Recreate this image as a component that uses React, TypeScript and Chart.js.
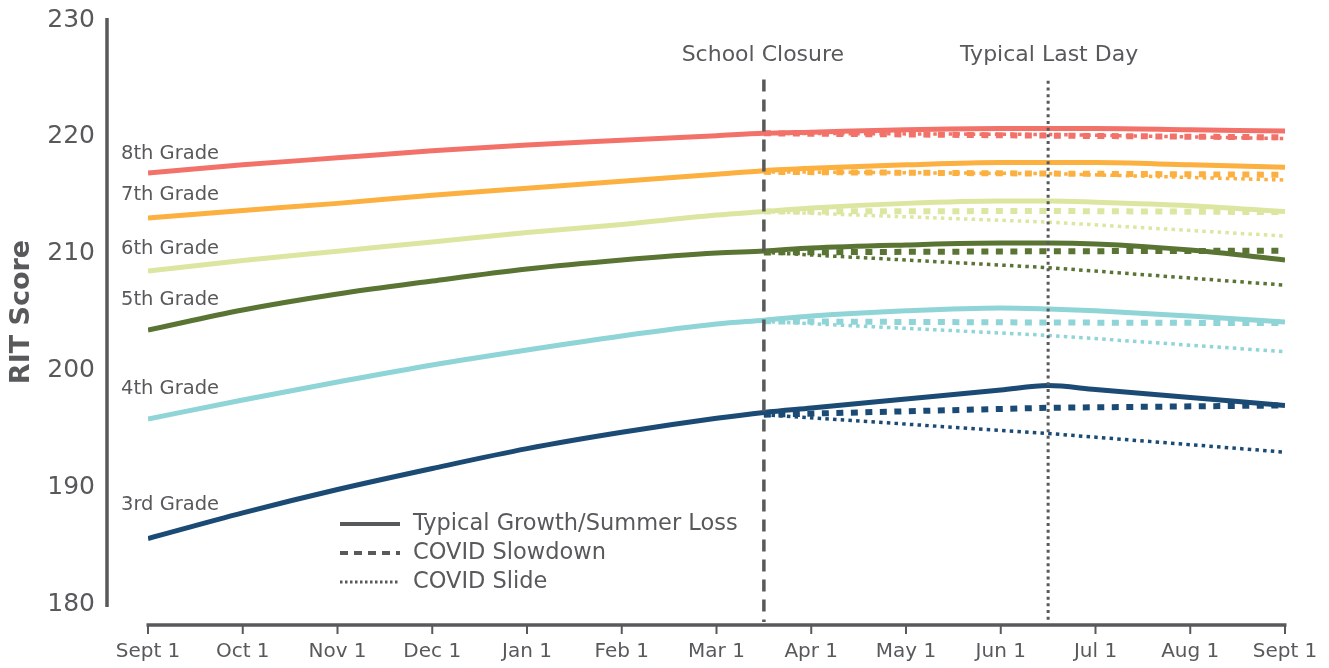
import React, { useEffect, useRef } from 'react';
import { Chart, registerables } from 'chart.js';

Chart.register(...registerables);

const FONT = "'DejaVu Sans', sans-serif";
const GREY = '#58595B';

const monthLabels = ['Sept 1', 'Oct 1', 'Nov 1', 'Dec 1', 'Jan 1', 'Feb 1', 'Mar 1', 'Apr 1', 'May 1', 'Jun 1', 'Jul 1', 'Aug 1', 'Sept 1'];
const grades = ['3rd Grade', '4th Grade', '5th Grade', '6th Grade', '7th Grade', '8th Grade'];
const gradeColors = ['#1B4B75', '#8FD4D6', '#5A7433', '#DCE6A1', '#FBB040', '#F2726A'];
const gradeLabelValues = [188.45, 198.45, 206.05, 210.4, 215.0, 218.5];

// months since Sept 1
const typicalX = [0, 1, 2, 3, 4, 5, 6, 6.5, 7, 8, 9, 9.5, 10, 11, 12];
const typical3rd = [185.6, 187.8, 189.8, 191.6, 193.3, 194.7, 195.9, 196.4, 196.78, 197.55, 198.32, 198.7, 198.36, 197.68, 197.0];
const typical4th = [195.84, 197.47, 199.0, 200.46, 201.75, 202.95, 203.97, 204.3, 204.65, 205.1, 205.34, 205.25, 205.1, 204.65, 204.14];
const typical5th = [203.46, 205.17, 206.54, 207.65, 208.68, 209.45, 210.05, 210.22, 210.48, 210.74, 210.9, 210.9, 210.82, 210.3, 209.45];
const typical6th = [208.5, 209.4, 210.2, 211.0, 211.8, 212.5, 213.3, 213.6, 213.9, 214.3, 214.5, 214.5, 214.4, 214.1, 213.6];
const typical7th = [213.05, 213.7, 214.3, 215.0, 215.6, 216.2, 216.8, 217.1, 217.3, 217.6, 217.8, 217.8, 217.8, 217.6, 217.4];
const typical8th = [216.9, 217.6, 218.2, 218.8, 219.3, 219.7, 220.1, 220.3, 220.4, 220.6, 220.7, 220.7, 220.7, 220.6, 220.5];

// COVID scenarios: school closure (mid-March), typical last day (mid-June), Sept 1
const covidX = [6.5, 9.5, 12];
const slowdown3rd = [196.2, 196.8, 197.0];
const slowdown4th = [204.2, 204.1, 204.05];
const slowdown5th = [210.1, 210.2, 210.25];
const slowdown6th = [213.6, 213.65, 213.55];
const slowdown7th = [217.0, 216.85, 216.75];
const slowdown8th = [220.3, 220.1, 219.95];
const slide3rd = [196.2, 194.6, 193.0];
const slide4th = [204.2, 203.0, 201.6];
const slide5th = [210.1, 208.8, 207.3];
const slide6th = [213.6, 212.7, 211.5];
const slide7th = [217.0, 216.85, 216.3];
const slide8th = [220.3, 220.2, 219.85];

const closureX = 6.5;
const lastDayX = 9.5;
const annotationValue = 227.0;
const legendLabels = ['Typical Growth/Summer Loss', 'COVID Slowdown', 'COVID Slide'];

const typicalSeries = [typical3rd, typical4th, typical5th, typical6th, typical7th, typical8th];
const slowdownSeries = [slowdown3rd, slowdown4th, slowdown5th, slowdown6th, slowdown7th, slowdown8th];
const slideSeries = [slide3rd, slide4th, slide5th, slide6th, slide7th, slide8th];

const DASH = [7, 7.5];
const DOT = [3.5, 4.2];

const decorPlugin = {
  id: 'decor',
  afterDatasetsDraw(chart: any) {
    const { ctx, chartArea, scales } = chart;
    const x = scales.x;
    const y = scales.y;
    ctx.save();
    ctx.strokeStyle = GREY;
    ctx.lineCap = 'butt';
    // School closure
    const cx = x.getPixelForValue(closureX);
    ctx.lineWidth = 3.5;
    ctx.setLineDash([12, 8]);
    ctx.beginPath();
    ctx.moveTo(cx, y.getPixelForValue(224.9));
    ctx.lineTo(cx, chartArea.bottom + 18);
    ctx.stroke();
    // Typical last day
    const lx = x.getPixelForValue(lastDayX);
    ctx.lineWidth = 3;
    ctx.setLineDash([3, 3.7]);
    ctx.beginPath();
    ctx.moveTo(lx, y.getPixelForValue(224.8));
    ctx.lineTo(lx, chartArea.bottom + 16);
    ctx.stroke();
    ctx.setLineDash([]);
    ctx.fillStyle = GREY;
    ctx.font = `22px ${FONT}`;
    ctx.textAlign = 'center';
    ctx.textBaseline = 'middle';
    ctx.fillText('School Closure', cx - 1, y.getPixelForValue(annotationValue));
    ctx.fillText('Typical Last Day', lx + 1, y.getPixelForValue(annotationValue));
    ctx.restore();
  },
  afterDraw(chart: any) {
    const { ctx, chartArea, scales } = chart;
    const x = scales.x;
    const y = scales.y;
    ctx.save();
    ctx.strokeStyle = GREY;
    ctx.setLineDash([]);
    ctx.lineCap = 'butt';
    // y axis line
    const ax = chartArea.left - 41;
    ctx.lineWidth = 3.5;
    ctx.beginPath();
    ctx.moveTo(ax, chartArea.top - 2);
    ctx.lineTo(ax, chartArea.bottom + 3);
    ctx.stroke();
    // x axis line + ticks
    const ay = chartArea.bottom + 21;
    const x0 = x.getPixelForValue(0);
    const x1 = x.getPixelForValue(12);
    ctx.beginPath();
    ctx.moveTo(x0 - 1.5, ay);
    ctx.lineTo(x1 + 1.5, ay);
    ctx.stroke();
    ctx.lineWidth = 2;
    for (let i = 0; i < monthLabels.length; i++) {
      const px = x.getPixelForValue(i);
      ctx.beginPath();
      ctx.moveTo(px, ay);
      ctx.lineTo(px, ay + 9);
      ctx.stroke();
    }
    // grade labels
    ctx.fillStyle = GREY;
    ctx.font = `19.5px ${FONT}`;
    ctx.textAlign = 'left';
    ctx.textBaseline = 'middle';
    grades.forEach((g, i) => {
      ctx.fillText(g, chartArea.left - 27, y.getPixelForValue(gradeLabelValues[i]));
    });
    // legend
    const lx0 = chartArea.left + 192;
    const lx1 = chartArea.left + 252;
    const rows = [chartArea.bottom - 80, chartArea.bottom - 51, chartArea.bottom - 22];
    const dashes = [[], [8, 6], [2.5, 2.5]];
    const widths = [4, 4, 3];
    ctx.font = `22.5px ${FONT}`;
    legendLabels.forEach((lab, i) => {
      ctx.lineWidth = widths[i];
      ctx.setLineDash(dashes[i]);
      ctx.beginPath();
      ctx.moveTo(lx0, rows[i]);
      ctx.lineTo(lx1, rows[i]);
      ctx.stroke();
      ctx.setLineDash([]);
      ctx.fillText(lab, lx1 + 13, rows[i]);
    });
    ctx.restore();
  },
};

export default function App() {
  const canvasRef = useRef<HTMLCanvasElement | null>(null);

  useEffect(() => {
    const canvas = canvasRef.current;
    if (!canvas) return;
    const toPoints = (xs: number[], ys: number[]) => xs.map((xv, i) => ({ x: xv, y: ys[i] }));
    const datasets: any[] = [];
    typicalSeries.forEach((s, i) => {
      datasets.push({
        label: grades[i] + ' typical',
        data: toPoints(typicalX, s),
        borderColor: gradeColors[i],
        borderWidth: 5,
        cubicInterpolationMode: 'monotone',
        pointRadius: 0,
        fill: false,
      });
    });
    slowdownSeries.forEach((s, i) => {
      datasets.push({
        label: grades[i] + ' slowdown',
        data: toPoints(covidX, s),
        borderColor: gradeColors[i],
        borderWidth: 6,
        borderDash: DASH,
        borderCapStyle: 'butt',
        tension: 0,
        pointRadius: 0,
        fill: false,
      });
    });
    slideSeries.forEach((s, i) => {
      datasets.push({
        label: grades[i] + ' slide',
        data: toPoints(covidX, s),
        borderColor: gradeColors[i],
        borderWidth: 3.5,
        borderDash: DOT,
        borderCapStyle: 'butt',
        tension: 0,
        pointRadius: 0,
        fill: false,
      });
    });

    const chart = new Chart(canvas, {
      type: 'line',
      data: { datasets },
      options: {
        animation: false,
        responsive: true,
        maintainAspectRatio: false,
        layout: { padding: { left: 0, right: 44, top: 20, bottom: 0 } },
        plugins: { legend: { display: false }, tooltip: { enabled: false } },
        scales: {
          x: {
            type: 'linear',
            min: 0,
            max: 12,
            border: { display: false },
            grid: { display: true, drawOnChartArea: false, drawTicks: true, tickLength: 36, tickColor: 'rgba(0,0,0,0)' },
            ticks: {
              stepSize: 1,
              autoSkip: false,
              maxRotation: 0,
              padding: 0,
              color: GREY,
              font: { family: FONT, size: 20 },
              callback: (v: any) => monthLabels[Math.round(Number(v))] ?? '',
            },
            afterFit: (scale: any) => { scale.height = 64; },
          },
          y: {
            min: 180,
            max: 230,
            border: { display: false },
            grid: { display: true, drawOnChartArea: false, drawTicks: true, tickLength: 53, tickColor: 'rgba(0,0,0,0)' },
            ticks: {
              stepSize: 10,
              padding: 0,
              color: GREY,
              font: { family: FONT, size: 25 },
            },
            title: {
              display: true,
              text: 'RIT Score',
              color: GREY,
              font: { family: FONT, size: 27, weight: 'bold' },
              padding: { top: 6, bottom: 0 },
            },
            afterFit: (scale: any) => { scale.width = 148; },
          },
        },
      },
      plugins: [decorPlugin],
    });
    return () => chart.destroy();
  }, []);

  return (
    <div style={{ position: 'fixed', left: 0, top: 0, width: 1329, height: 668, background: '#fff' }}>
      <canvas ref={canvasRef} />
    </div>
  );
}
